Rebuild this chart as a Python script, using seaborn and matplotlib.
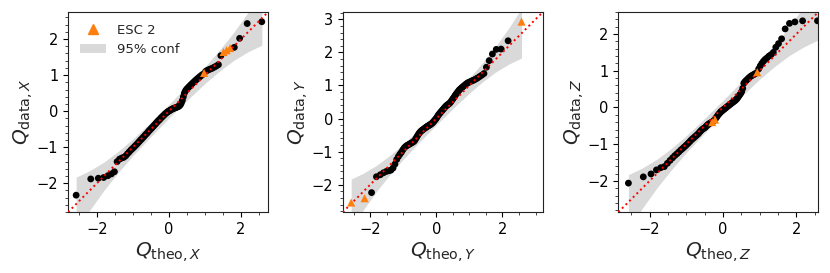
import numpy as np
import matplotlib.pyplot as plt
import seaborn as sns
from matplotlib.lines import Line2D
from matplotlib.patches import Patch
from matplotlib.ticker import AutoMinorLocator, MultipleLocator

# theoretical normal quantiles (100 samples)
q_theo = [-2.576, -2.170, -1.960, -1.812, -1.695, -1.598, -1.514, -1.440, -1.372, -1.311,
          -1.254, -1.200, -1.150, -1.103, -1.058, -1.015, -0.974, -0.935, -0.896, -0.860,
          -0.824, -0.789, -0.755, -0.722, -0.690, -0.659, -0.628, -0.598, -0.568, -0.539,
          -0.510, -0.482, -0.454, -0.426, -0.399, -0.372, -0.345, -0.319, -0.292, -0.266,
          -0.240, -0.215, -0.189, -0.164, -0.138, -0.113, -0.088, -0.063, -0.038, -0.013,
          0.013, 0.038, 0.063, 0.088, 0.113, 0.138, 0.164, 0.189, 0.215, 0.240,
          0.266, 0.292, 0.319, 0.345, 0.372, 0.399, 0.426, 0.454, 0.482, 0.510,
          0.539, 0.568, 0.598, 0.628, 0.659, 0.690, 0.722, 0.755, 0.789, 0.824,
          0.860, 0.896, 0.935, 0.974, 1.015, 1.058, 1.103, 1.150, 1.200, 1.254,
          1.311, 1.372, 1.440, 1.514, 1.598, 1.695, 1.812, 1.960, 2.170, 2.576]

q_data_x = [-2.33, -1.88, -1.86, -1.84, -1.79, -1.74, -1.68, -1.40, -1.33, -1.30,
            -1.28, -1.24, -1.18, -1.13, -1.08, -1.04, -1.00, -0.96, -0.92, -0.88,
            -0.84, -0.80, -0.77, -0.73, -0.70, -0.66, -0.63, -0.60, -0.56, -0.53,
            -0.50, -0.47, -0.44, -0.41, -0.38, -0.35, -0.32, -0.29, -0.26, -0.24,
            -0.21, -0.18, -0.16, -0.13, -0.11, -0.08, -0.06, -0.04, -0.02, 0.00,
            0.01, 0.03, 0.04, 0.06, 0.07, 0.08, 0.09, 0.10, 0.11, 0.12,
            0.13, 0.15, 0.18, 0.23, 0.30, 0.40, 0.50, 0.56, 0.60, 0.63,
            0.66, 0.69, 0.72, 0.75, 0.78, 0.81, 0.84, 0.87, 0.90, 0.93,
            0.96, 0.99, 1.02, 1.06, 1.10, 1.13, 1.15, 1.17, 1.19, 1.22,
            1.25, 1.29, 1.54, 1.64, 1.69, 1.75, 1.77, 2.02, 2.43, 2.48]

q_data_y = [-2.54, -2.41, -2.24, -1.76, -1.70, -1.64, -1.60, -1.58, -1.56, -1.50,
            -1.38, -1.24, -1.15, -1.08, -1.02, -0.95, -0.89, -0.85, -0.82, -0.80,
            -0.78, -0.76, -0.74, -0.72, -0.70, -0.67, -0.62, -0.57, -0.52, -0.47,
            -0.43, -0.40, -0.37, -0.35, -0.33, -0.31, -0.29, -0.27, -0.25, -0.23,
            -0.22, -0.20, -0.19, -0.17, -0.15, -0.13, -0.10, -0.07, -0.04, -0.01,
            0.03, 0.07, 0.11, 0.14, 0.17, 0.20, 0.23, 0.26, 0.29, 0.32,
            0.35, 0.38, 0.40, 0.42, 0.44, 0.46, 0.49, 0.53, 0.57, 0.61,
            0.65, 0.70, 0.74, 0.78, 0.82, 0.86, 0.89, 0.92, 0.95, 0.98,
            1.01, 1.04, 1.07, 1.09, 1.11, 1.13, 1.15, 1.17, 1.20, 1.23,
            1.27, 1.31, 1.36, 1.55, 1.75, 1.95, 2.09, 2.10, 2.35, 2.93]

q_data_z = [-2.06, -1.89, -1.81, -1.70, -1.64, -1.61, -1.52, -1.44, -1.37, -1.31,
            -1.26, -1.21, -1.16, -1.12, -1.08, -1.04, -1.00, -0.96, -0.92, -0.88,
            -0.85, -0.82, -0.79, -0.76, -0.73, -0.70, -0.66, -0.63, -0.60, -0.58,
            -0.56, -0.54, -0.51, -0.48, -0.46, -0.44, -0.42, -0.41, -0.40, -0.37,
            -0.35, -0.33, -0.29, -0.25, -0.21, -0.18, -0.15, -0.12, -0.10, -0.08,
            -0.06, -0.04, -0.02, 0.00, 0.02, 0.04, 0.06, 0.08, 0.10, 0.12,
            0.14, 0.16, 0.18, 0.20, 0.23, 0.26, 0.30, 0.34, 0.38, 0.43,
            0.52, 0.66, 0.70, 0.73, 0.76, 0.79, 0.82, 0.85, 0.87, 0.89,
            0.91, 0.93, 0.96, 1.05, 1.13, 1.20, 1.26, 1.31, 1.35, 1.40,
            1.44, 1.50, 1.64, 1.74, 1.87, 2.14, 2.29, 2.33, 2.36, 2.36]

# indices of the ESC 2 samples in each component
esc_x = [83, 93, 94, 95]
esc_y = [0, 1, 99]
esc_z = [38, 41, 82]

# 95% confidence band
band_x = [-2.576, -2.2, -1.8, -1.4, -1.0, -0.5, 0.0, 0.5, 1.0, 1.4, 1.8, 2.2, 2.576]
band_lo = [-3.33, -2.75, -2.19, -1.69, -1.23, -0.70, -0.19, 0.30, 0.77, 1.11, 1.41, 1.65, 1.83]
band_hi = [-1.83, -1.65, -1.41, -1.11, -0.77, -0.30, 0.19, 0.70, 1.23, 1.69, 2.19, 2.75, 3.33]

components = ["X", "Y", "Z"]
limits = [(-2.8, 2.75), (-2.83, 3.22), (-2.85, 2.6)]

sns.set_style("ticks")
plt.rcParams['font.family'] = ['DejaVu Sans']
plt.rcParams['mathtext.fontset'] = 'dejavusans'

fig = plt.figure(figsize=(8.3, 2.73), dpi=100)
lefts = [0.082, 0.413, 0.745]
theo = np.array(q_theo)

for left, comp, q_data, esc_idx, lims in zip(lefts, components,
                                              [q_data_x, q_data_y, q_data_z],
                                              [esc_x, esc_y, esc_z], limits):
    ax = fig.add_axes([left, 0.223, 0.241, 0.733])
    data = np.array(q_data)
    is_esc = np.zeros(len(data), dtype=bool)
    is_esc[esc_idx] = True

    ax.fill_between(band_x, band_lo, band_hi, color='#d9d9d9', lw=0, zorder=1)
    sns.scatterplot(x=theo[~is_esc], y=data[~is_esc], color='black', s=24,
                    edgecolor='none', ax=ax, zorder=2)
    ax.axline((0, 0), slope=1, color='red', linestyle=':', lw=1.4, zorder=3)
    sns.scatterplot(x=theo[is_esc], y=data[is_esc], color='#ff7f0e', marker='^',
                    s=34, edgecolor='none', ax=ax, zorder=4)

    ax.set_xlim(lims)
    ax.set_ylim(lims)
    ax.xaxis.set_major_locator(MultipleLocator(2))
    ax.yaxis.set_major_locator(MultipleLocator(1))
    ax.xaxis.set_minor_locator(AutoMinorLocator(4))
    ax.yaxis.set_minor_locator(AutoMinorLocator(5))
    ax.tick_params(labelsize=10.5, colors='black')
    for spine in ax.spines.values():
        spine.set_color('#222222')
    ax.set_xlabel(rf"$Q_{{\mathrm{{theo}},{comp}}}$", fontsize=14.5, labelpad=2)
    ax.set_ylabel(rf"$Q_{{\mathrm{{data}},{comp}}}$", fontsize=14.5, labelpad=1)

    if comp == "X":
        handles = [Line2D([], [], marker='^', color='#ff7f0e', linestyle='None', markersize=6.5),
                   Patch(facecolor='#d9d9d9', edgecolor='none')]
        ax.legend(handles, ["ESC 2", "95% conf"], loc='upper left', frameon=False,
                  fontsize=9.5)

plt.savefig("out.png", dpi=100)
